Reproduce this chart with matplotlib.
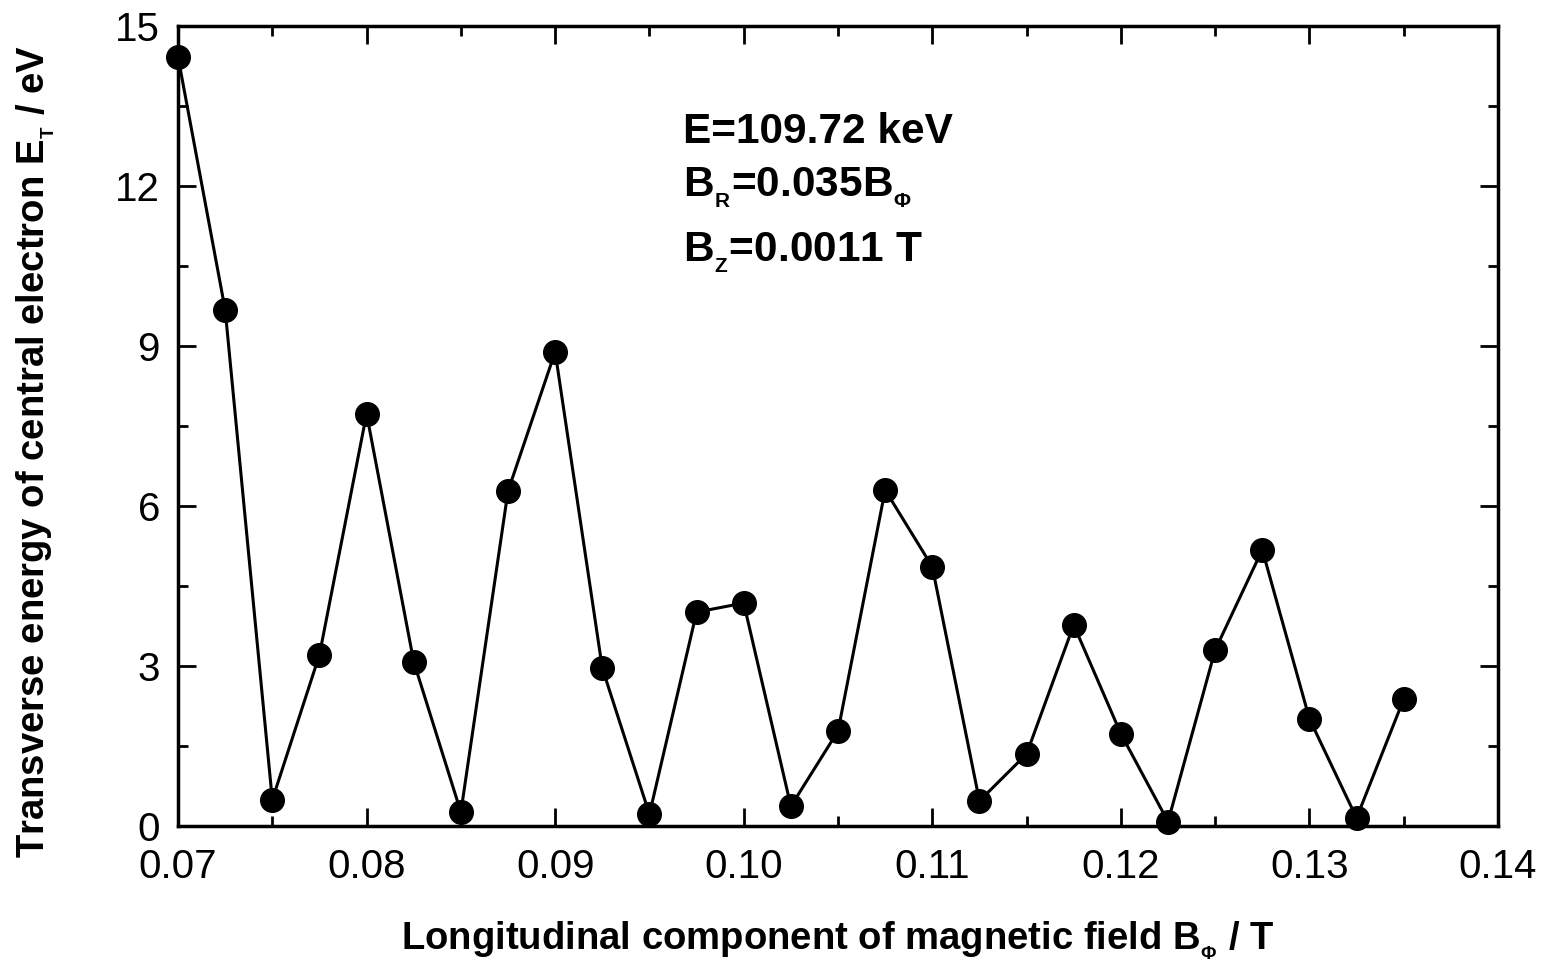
import matplotlib
matplotlib.use("Agg")
import matplotlib.pyplot as plt
from matplotlib.ticker import MultipleLocator

# magnetic field B_phi (T) and transverse energy E_T (eV)
b_phi = [0.07, 0.0725, 0.075, 0.0775, 0.08, 0.0825, 0.085, 0.0875, 0.09,
         0.0925, 0.095, 0.0975, 0.10, 0.1025, 0.105, 0.1075, 0.11, 0.1125,
         0.115, 0.1175, 0.12, 0.1225, 0.125, 0.1275, 0.13, 0.1325, 0.135]
e_t = [14.42, 9.68, 0.49, 3.21, 7.73, 3.08, 0.26, 6.28, 8.89,
       2.96, 0.22, 4.01, 4.18, 0.37, 1.78, 6.30, 4.86, 0.47,
       1.35, 3.77, 1.73, 0.08, 3.30, 5.18, 2.01, 0.15, 2.38]

info_lines = ["E=109.72 keV",
              r"B$_{_R}$=0.035B$_{_\Phi}$",
              r"B$_{_Z}$=0.0011 T"]

plt.rcParams["font.family"] = ["Liberation Sans", "DejaVu Sans"]
plt.rcParams["mathtext.fontset"] = "custom"
plt.rcParams["mathtext.rm"] = "Liberation Sans:bold"
plt.rcParams["mathtext.it"] = "Liberation Sans:bold"
plt.rcParams["mathtext.bf"] = "Liberation Sans:bold"

fig = plt.figure(figsize=(15.48, 9.6), dpi=100)
ax = fig.add_axes([0.115, 0.1396, 0.8527, 0.8333])

ax.plot(b_phi, e_t, color="black", linewidth=2.2, marker="o",
        markersize=17, clip_on=False, zorder=3)

ax.set_xlim(0.07, 0.14)
ax.set_ylim(0, 15)
ax.xaxis.set_major_locator(MultipleLocator(0.01))
ax.xaxis.set_minor_locator(MultipleLocator(0.005))
ax.yaxis.set_major_locator(MultipleLocator(3))
ax.yaxis.set_minor_locator(MultipleLocator(1.5))
ax.xaxis.set_major_formatter(plt.FuncFormatter(lambda v, p: f"{v:.2f}"))

for s in ax.spines.values():
    s.set_linewidth(2.5)
ax.tick_params(which="both", direction="in", top=True, right=True,
               width=2, labelsize=29)
ax.tick_params(which="major", length=13)
ax.tick_params(which="minor", length=7)
ax.tick_params(axis="x", which="major", pad=16)
ax.tick_params(axis="y", which="major", pad=13)

ax.set_xlabel(r"Longitudinal component of magnetic field B$_{_\Phi}$ / T",
              fontsize=27.5, fontweight="bold", labelpad=24)
ax.set_ylabel(r"Transverse energy of central electron E$_{_T}$ / eV",
              fontsize=27.5, fontweight="bold")
ax.yaxis.set_label_coords(-0.092, 0.468)

tops = [0.8925, 0.826, 0.745]
for line, y in zip(info_lines, tops):
    ax.text(0.3826, y, line, transform=ax.transAxes, fontsize=30.5,
            fontweight="bold", va="top", ha="left")

fig.savefig("out.png", dpi=100)
